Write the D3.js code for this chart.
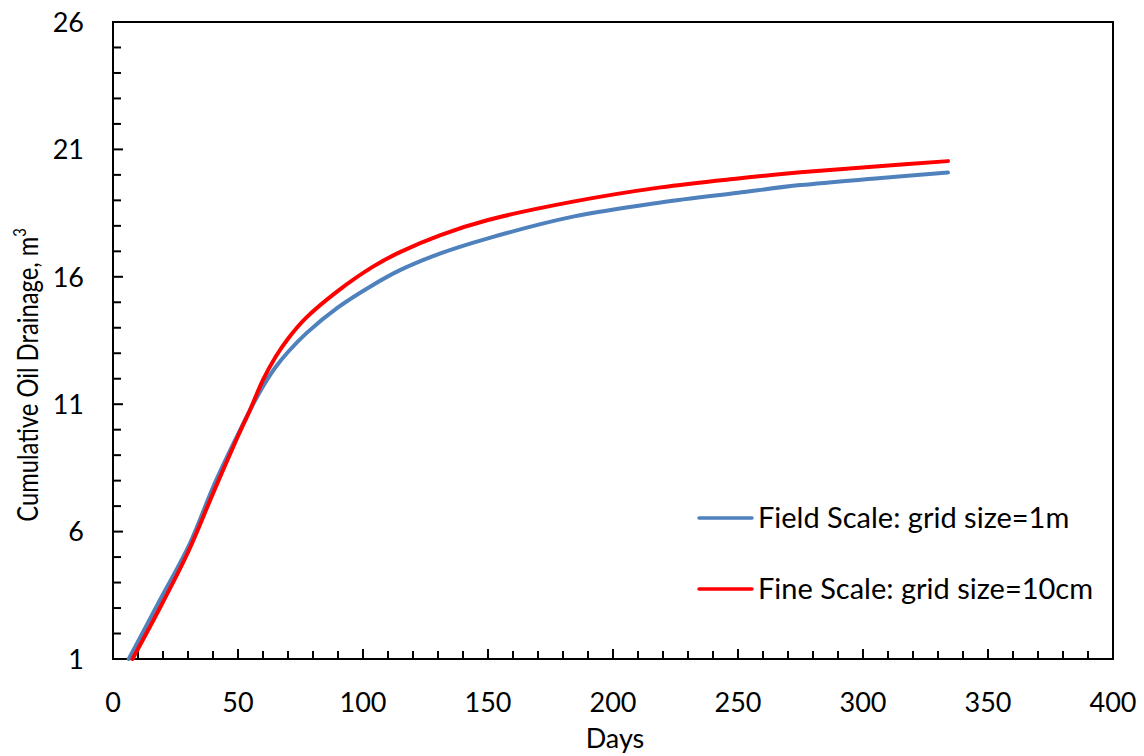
<!DOCTYPE html>
<html>
<head>
<meta charset="utf-8">
<script src="https://cdn.jsdelivr.net/npm/d3@7"></script>
<style>
  html, body { margin: 0; padding: 0; background: #fff; }
  svg { display: block; }
  text { font-family: Lato, "Open Sans", sans-serif; fill: #000; }
</style>
</head>
<body>
<svg id="chart" width="1144" height="756"></svg>
<script>
// Cumulative oil drainage over time for two grid resolutions
const fieldDays   = [6.3, 18, 30.8, 40.1, 49.5, 54.8, 60, 65, 70, 77.5, 90, 104, 115, 131, 150, 184, 219, 250, 275, 305, 334];
const fieldValues = [1.0, 3.17, 5.54, 7.76, 9.72, 10.77, 11.7, 12.45, 13.05, 13.8, 14.8, 15.68, 16.27, 16.92, 17.51, 18.36, 18.92, 19.3, 19.6, 19.86, 20.09];

const fineDays   = [7.8, 19, 30.1, 40, 50, 54.8, 60, 65, 70, 77, 90, 104, 115, 131, 150, 184, 219, 250, 275, 305, 334];
const fineValues = [1.0, 3.05, 5.21, 7.5, 9.75, 10.77, 11.95, 12.85, 13.57, 14.37, 15.45, 16.4, 16.98, 17.64, 18.23, 18.95, 19.51, 19.86, 20.1, 20.33, 20.54];

const seriesNames = ["Field Scale: grid size=1m", "Fine Scale: grid size=10cm"];
const seriesColors = ["#4F81BD", "#FF0000"];

const xTicks = [0, 50, 100, 150, 200, 250, 300, 350, 400];
const yTicks = [1, 6, 11, 16, 21, 26];

const svg = d3.select("#chart");
const plotLeft = 113, plotRight = 1113, plotTop = 22, plotBottom = 659;

const x = d3.scaleLinear().domain([0, 400]).range([plotLeft, plotRight]);
const y = d3.scaleLinear().domain([1, 26]).range([plotBottom, plotTop]);

// plot frame
svg.append("rect")
  .attr("x", plotLeft).attr("y", plotTop)
  .attr("width", plotRight - plotLeft).attr("height", plotBottom - plotTop)
  .attr("fill", "none").attr("stroke", "#000").attr("stroke-width", 2);

// inward minor and major ticks
const tickG = svg.append("g").attr("stroke", "#000").attr("stroke-width", 2);
d3.range(0, 401, 10).forEach(d => {
  const len = d % 50 === 0 ? 10 : 8;
  tickG.append("line").attr("x1", x(d)).attr("x2", x(d))
    .attr("y1", plotBottom).attr("y2", plotBottom - len);
});
d3.range(1, 27, 1).forEach(d => {
  const len = (d - 1) % 5 === 0 ? 10 : 8;
  tickG.append("line").attr("x1", plotLeft).attr("x2", plotLeft + len)
    .attr("y1", y(d)).attr("y2", y(d));
});

// tick labels
svg.append("g").selectAll("text").data(xTicks).join("text")
  .attr("x", d => x(d)).attr("y", 712)
  .attr("text-anchor", "middle").attr("font-size", 27)
  .text(d => d);
svg.append("g").selectAll("text").data(yTicks).join("text")
  .attr("x", 84).attr("y", d => y(d)).attr("dy", "0.36em")
  .attr("text-anchor", "end").attr("font-size", 27)
  .text(d => d);

// axis titles
svg.append("text")
  .attr("x", 615).attr("y", 748)
  .attr("text-anchor", "middle").attr("font-size", 27)
  .text("Days");

const yTitle = svg.append("text")
  .attr("transform", "translate(38,375) rotate(-90) scale(0.82,1)")
  .attr("text-anchor", "middle").attr("font-size", 29);
yTitle.append("tspan").text("Cumulative Oil Drainage, m");
yTitle.append("tspan").attr("dy", -12).attr("font-size", 18).text("3");

// curves
const line = d3.line().x(d => x(d[0])).y(d => y(d[1])).curve(d3.curveCatmullRom.alpha(0.5));
const series = [
  d3.zip(fieldDays, fieldValues),
  d3.zip(fineDays, fineValues)
];
svg.append("g").selectAll("path").data(series).join("path")
  .attr("d", line)
  .attr("fill", "none")
  .attr("stroke", (d, i) => seriesColors[i])
  .attr("stroke-width", 4)
  .attr("stroke-linecap", "round");

// legend
const legend = svg.append("g");
[518, 589].forEach((ly, i) => {
  legend.append("line")
    .attr("x1", 699).attr("x2", 752).attr("y1", ly).attr("y2", ly)
    .attr("stroke", seriesColors[i]).attr("stroke-width", 3.5)
    .attr("stroke-linecap", "round");
  legend.append("text")
    .attr("x", 758).attr("y", ly + 10)
    .attr("font-size", 29)
    .text(seriesNames[i]);
});
</script>
</body>
</html>
